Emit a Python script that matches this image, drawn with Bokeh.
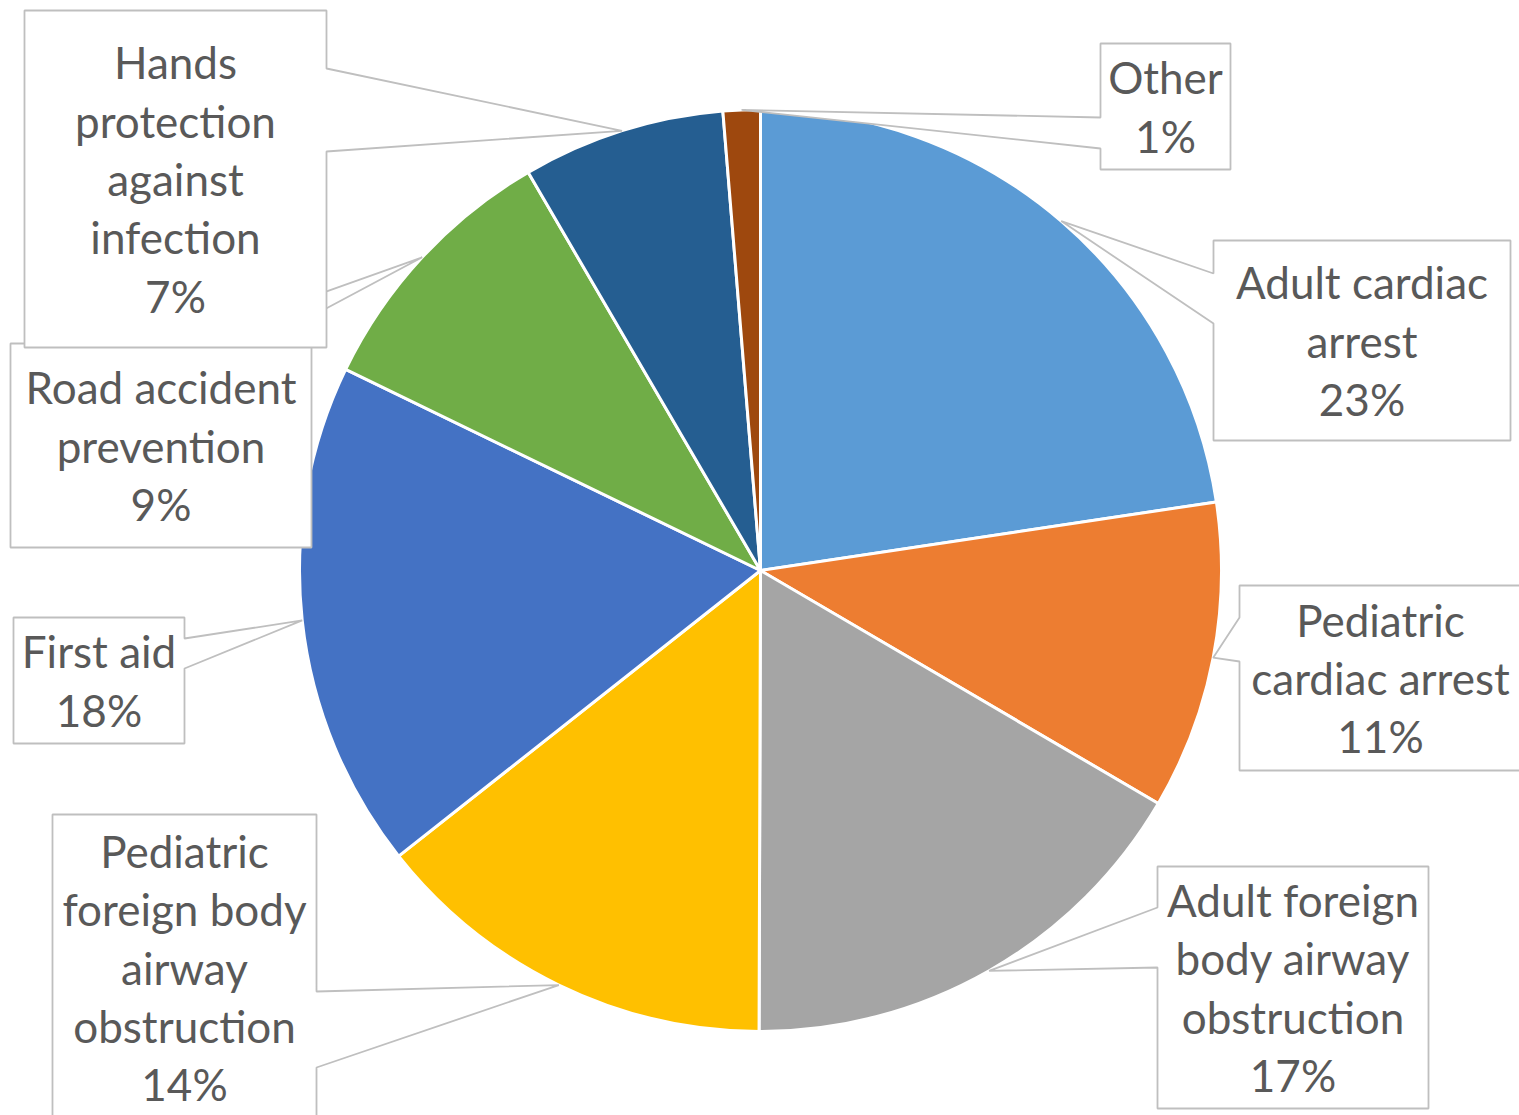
import math
from bokeh.plotting import figure
from bokeh.models import Range1d, ColumnDataSource
from bokeh.core.properties import value
from bokeh.embed import file_html
from bokeh.resources import INLINE

# ---- data ----
categories = ["Adult cardiac arrest", "Pediatric cardiac arrest",
              "Adult foreign body airway obstruction",
              "Pediatric foreign body airway obstruction", "First aid",
              "Road accident prevention", "Hands protection against infection", "Other"]
shares = [22.6, 10.8, 16.6, 14.3, 17.8, 9.4, 7.1, 1.3]
label_lines = [["Adult cardiac", "arrest"], ["Pediatric", "cardiac arrest"],
               ["Adult foreign", "body airway", "obstruction"],
               ["Pediatric", "foreign body", "airway", "obstruction"],
               ["First aid"], ["Road accident", "prevention"],
               ["Hands", "protection", "against", "infection"], ["Other"]]
colors = ["#5B9BD5", "#ED7D31", "#A5A5A5", "#FFC000", "#4472C4", "#70AD47", "#255E91", "#9E480E"]

# ---- layout (page pixel coordinates) ----
CX, CY, R = 760, 570, 461
# box (x0, y0, x1, y1), pointer side, base start, base end
boxes = [
    ((1213, 240, 1510, 440), "left", 273, 323),
    ((1239, 585, 1521, 770), "left", 617, 661),
    ((1157, 866, 1428, 1108), "left", 907, 967),
    ((52, 814, 316, 1120), "right", 991, 1067),
    ((13, 617, 184, 743), "right", 638, 668),
    ((10, 343, 311, 547), "top", 180, 260),
    ((24, 10, 326, 347), "right", 68, 151),
    ((1100, 43, 1230, 169), "left", 117, 148),
]
LINE_H = 58.3
FONT = "Lato"
FSIZE = "44px"
TEXT_COLOR = "#595959"
BORDER = "#BFBFBF"

W, H = 1519, 1115
p = figure(width=W, height=H, output_backend="svg", toolbar_location=None,
           x_range=Range1d(0, W), y_range=Range1d(-H, 0),
           min_border=0, background_fill_color="white", border_fill_color="white")
p.axis.visible = False
p.grid.visible = False
p.outline_line_color = None

total = sum(shares)
fracs = [s / total for s in shares]
starts, ends, mids = [], [], []
cum = 0.0
for f in fracs:
    a0 = math.pi / 2 - 2 * math.pi * (cum + f)
    a1 = math.pi / 2 - 2 * math.pi * cum
    starts.append(a0)
    ends.append(a1)
    mids.append((a0 + a1) / 2)
    cum += f

src = ColumnDataSource(dict(start=starts, end=ends, color=colors, cat=categories))
p.wedge(x=CX, y=-CY, radius=R, start_angle="start", end_angle="end",
        fill_color="color", line_color="white", line_width=3, source=src)

for i in range(len(shares)):
    (x0, y0, x1, y1), side, b0, b1 = boxes[i]
    tx = CX + R * math.cos(mids[i])
    ty = CY - R * math.sin(mids[i])
    if side == "left":
        pts = [(x0, y0), (x1, y0), (x1, y1), (x0, y1), (x0, b1), (tx, ty), (x0, b0)]
    elif side == "right":
        pts = [(x0, y0), (x1, y0), (x1, b0), (tx, ty), (x1, b1), (x1, y1), (x0, y1)]
    else:
        pts = [(x0, y0), (b0, y0), (tx, ty), (b1, y0), (x1, y0), (x1, y1), (x0, y1)]
    xs = [q[0] for q in pts]
    ys = [-q[1] for q in pts]
    p.patch(xs, ys, fill_color="white", line_color=BORDER, line_width=1.8)

    pct = round(fracs[i] * 100)
    lines = label_lines[i] + [f"{pct}%"]
    n = len(lines)
    xc = (x0 + x1) / 2
    yc = (y0 + y1) / 2
    ys_t = [-(yc + (k - (n - 1) / 2) * LINE_H) for k in range(n)]
    p.text(x=[xc] * n, y=ys_t, text=lines, text_font=value(FONT), text_font_size=FSIZE,
           text_color=TEXT_COLOR, text_align="center", text_baseline="middle")

open("out.html", "w").write(file_html(p, INLINE))
